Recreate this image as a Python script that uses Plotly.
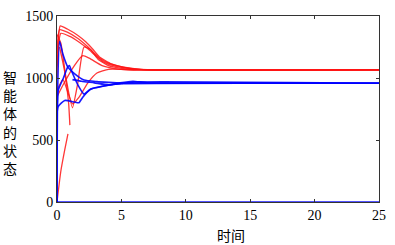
import plotly.graph_objects as go

# ---- data ----
x_ticks = [0, 5, 10, 15, 20, 25]
y_ticks = [0, 500, 1000, 1500]
x_title = "时间"
y_title = "智能体的状态"

# red agents
ra_t = [0, 0.1, 0.25, 0.8, 1.6, 2.25, 2.8, 3.3, 4.2, 5, 6, 7, 25]
ra_v = [1000, 1300, 1420, 1395, 1345, 1290, 1230, 1170, 1115, 1090, 1074, 1066, 1065]
rb_t = [0, 0.2, 0.8, 1.6, 2.3, 2.8, 3.3, 4, 5, 6, 7, 25]
rb_v = [1200, 1390, 1370, 1320, 1260, 1210, 1160, 1120, 1092, 1076, 1067, 1065]
rc_t = [0, 0.3, 1, 1.7, 2.4, 3, 3.6, 4.5, 5.5, 7, 25]
rc_v = [1100, 1360, 1335, 1290, 1235, 1180, 1130, 1095, 1078, 1066, 1065]
rd_t = [0, 0.3, 0.7, 1.2, 1.6, 2.1, 2.6, 3.2, 4, 5, 6, 25]
rd_v = [1350, 1280, 1000, 760, 950, 1250, 1230, 1150, 1100, 1078, 1068, 1065]
re_t = [0, 0.46, 1.2, 1.7, 2.4, 3.1, 4, 5, 6, 25]
re_v = [900, 987, 792, 844, 961, 1040, 1070, 1070, 1066, 1065]
rf_t = [0, 0.3, 0.6, 0.85]
rf_v = [0, 250, 420, 550]
rg_t = [0.2, 0.6, 0.9, 1.0]
rg_v = [1250, 1050, 800, 620]
rh_t = [0, 0.5, 1.35, 2, 2.5, 3.5, 4.5, 5.5, 7, 25]
rh_v = [850, 950, 1100, 1180, 1160, 1100, 1075, 1065, 1065, 1065]

# blue agents
ba_t = [0, 0.05, 0.2, 0.46, 0.84, 1.35, 2.1, 3.1, 4, 5, 6, 25]
ba_v = [0, 900, 1295, 1191, 1088, 1036, 984, 971, 965, 960, 960, 958]
bb_t = [0, 0.08, 0.6, 1.35, 1.7, 2, 2.6, 3.65, 4.9, 5.9, 7, 25]
bb_v = [0, 767, 819, 806, 800, 845, 909, 935, 961, 974, 962, 958]
bc_t = [0, 0.1, 0.5, 0.84, 0.97, 1.1, 1.6, 2.1, 2.6, 3.6, 5, 6, 25]
bc_v = [0, 900, 1000, 1090, 1101, 1064, 949, 870, 909, 935, 955, 968, 958]
bd_t = [1.2, 1.9, 2.9, 4, 5, 25]
bd_v = [987, 974, 961, 945, 955, 958]
be_t = [0, 25]
be_v = [0, 0]

red_series = [(ra_t, ra_v), (rb_t, rb_v), (rc_t, rc_v), (rd_t, rd_v),
              (re_t, re_v), (rf_t, rf_v), (rg_t, rg_v), (rh_t, rh_v)]
blue_series = [(ba_t, ba_v), (bb_t, bb_v), (bc_t, bc_v), (bd_t, bd_v),
               (be_t, be_v)]

fig = go.Figure()
for t, v in red_series:
    fig.add_trace(go.Scatter(x=t, y=v, mode="lines",
                             line=dict(color="rgba(255,20,20,0.85)", width=1.3,
                                       shape="spline", smoothing=0.5),
                             showlegend=False, hoverinfo="skip"))
for t, v in blue_series:
    fig.add_trace(go.Scatter(x=t, y=v, mode="lines",
                             line=dict(color="rgba(0,0,255,0.9)", width=1.6,
                                       shape="spline", smoothing=0.5),
                             showlegend=False, hoverinfo="skip"))

axis_common = dict(showgrid=False, zeroline=False, showline=True,
                   linecolor="#333333", linewidth=1, mirror="ticks",
                   ticks="inside", ticklen=3, tickcolor="#333333",
                   tickfont=dict(family="Liberation Serif", size=14,
                                 color="black"))

fig.update_xaxes(range=[0, 25], tickvals=x_ticks, **axis_common)
fig.update_yaxes(range=[0, 1500], tickvals=y_ticks, **axis_common)

plot_w, plot_h = 327.0, 193.0
fig.add_annotation(text="<br>".join(list(y_title)), xref="paper", yref="paper",
                   x=(9 - 57) / plot_w, y=(202 - 120) / plot_h,
                   xanchor="center", yanchor="middle", showarrow=False,
                   align="center",
                   font=dict(family="Noto Sans CJK SC", size=14, color="black"))
fig.add_annotation(text=x_title, xref="paper", yref="paper",
                   x=(233.5 - 57) / plot_w, y=-(236 - 202) / plot_h,
                   xanchor="center", yanchor="middle", showarrow=False,
                   font=dict(family="Noto Sans CJK SC", size=14, color="black"))

fig.update_layout(width=395, height=245,
                  margin=dict(l=57, r=11, t=9, b=43),
                  plot_bgcolor="white", paper_bgcolor="white")

fig.write_html("out.html", config={"displayModeBar": False},
               post_script="document.body.style.margin='0';"
                           "document.body.style.padding='0';")
